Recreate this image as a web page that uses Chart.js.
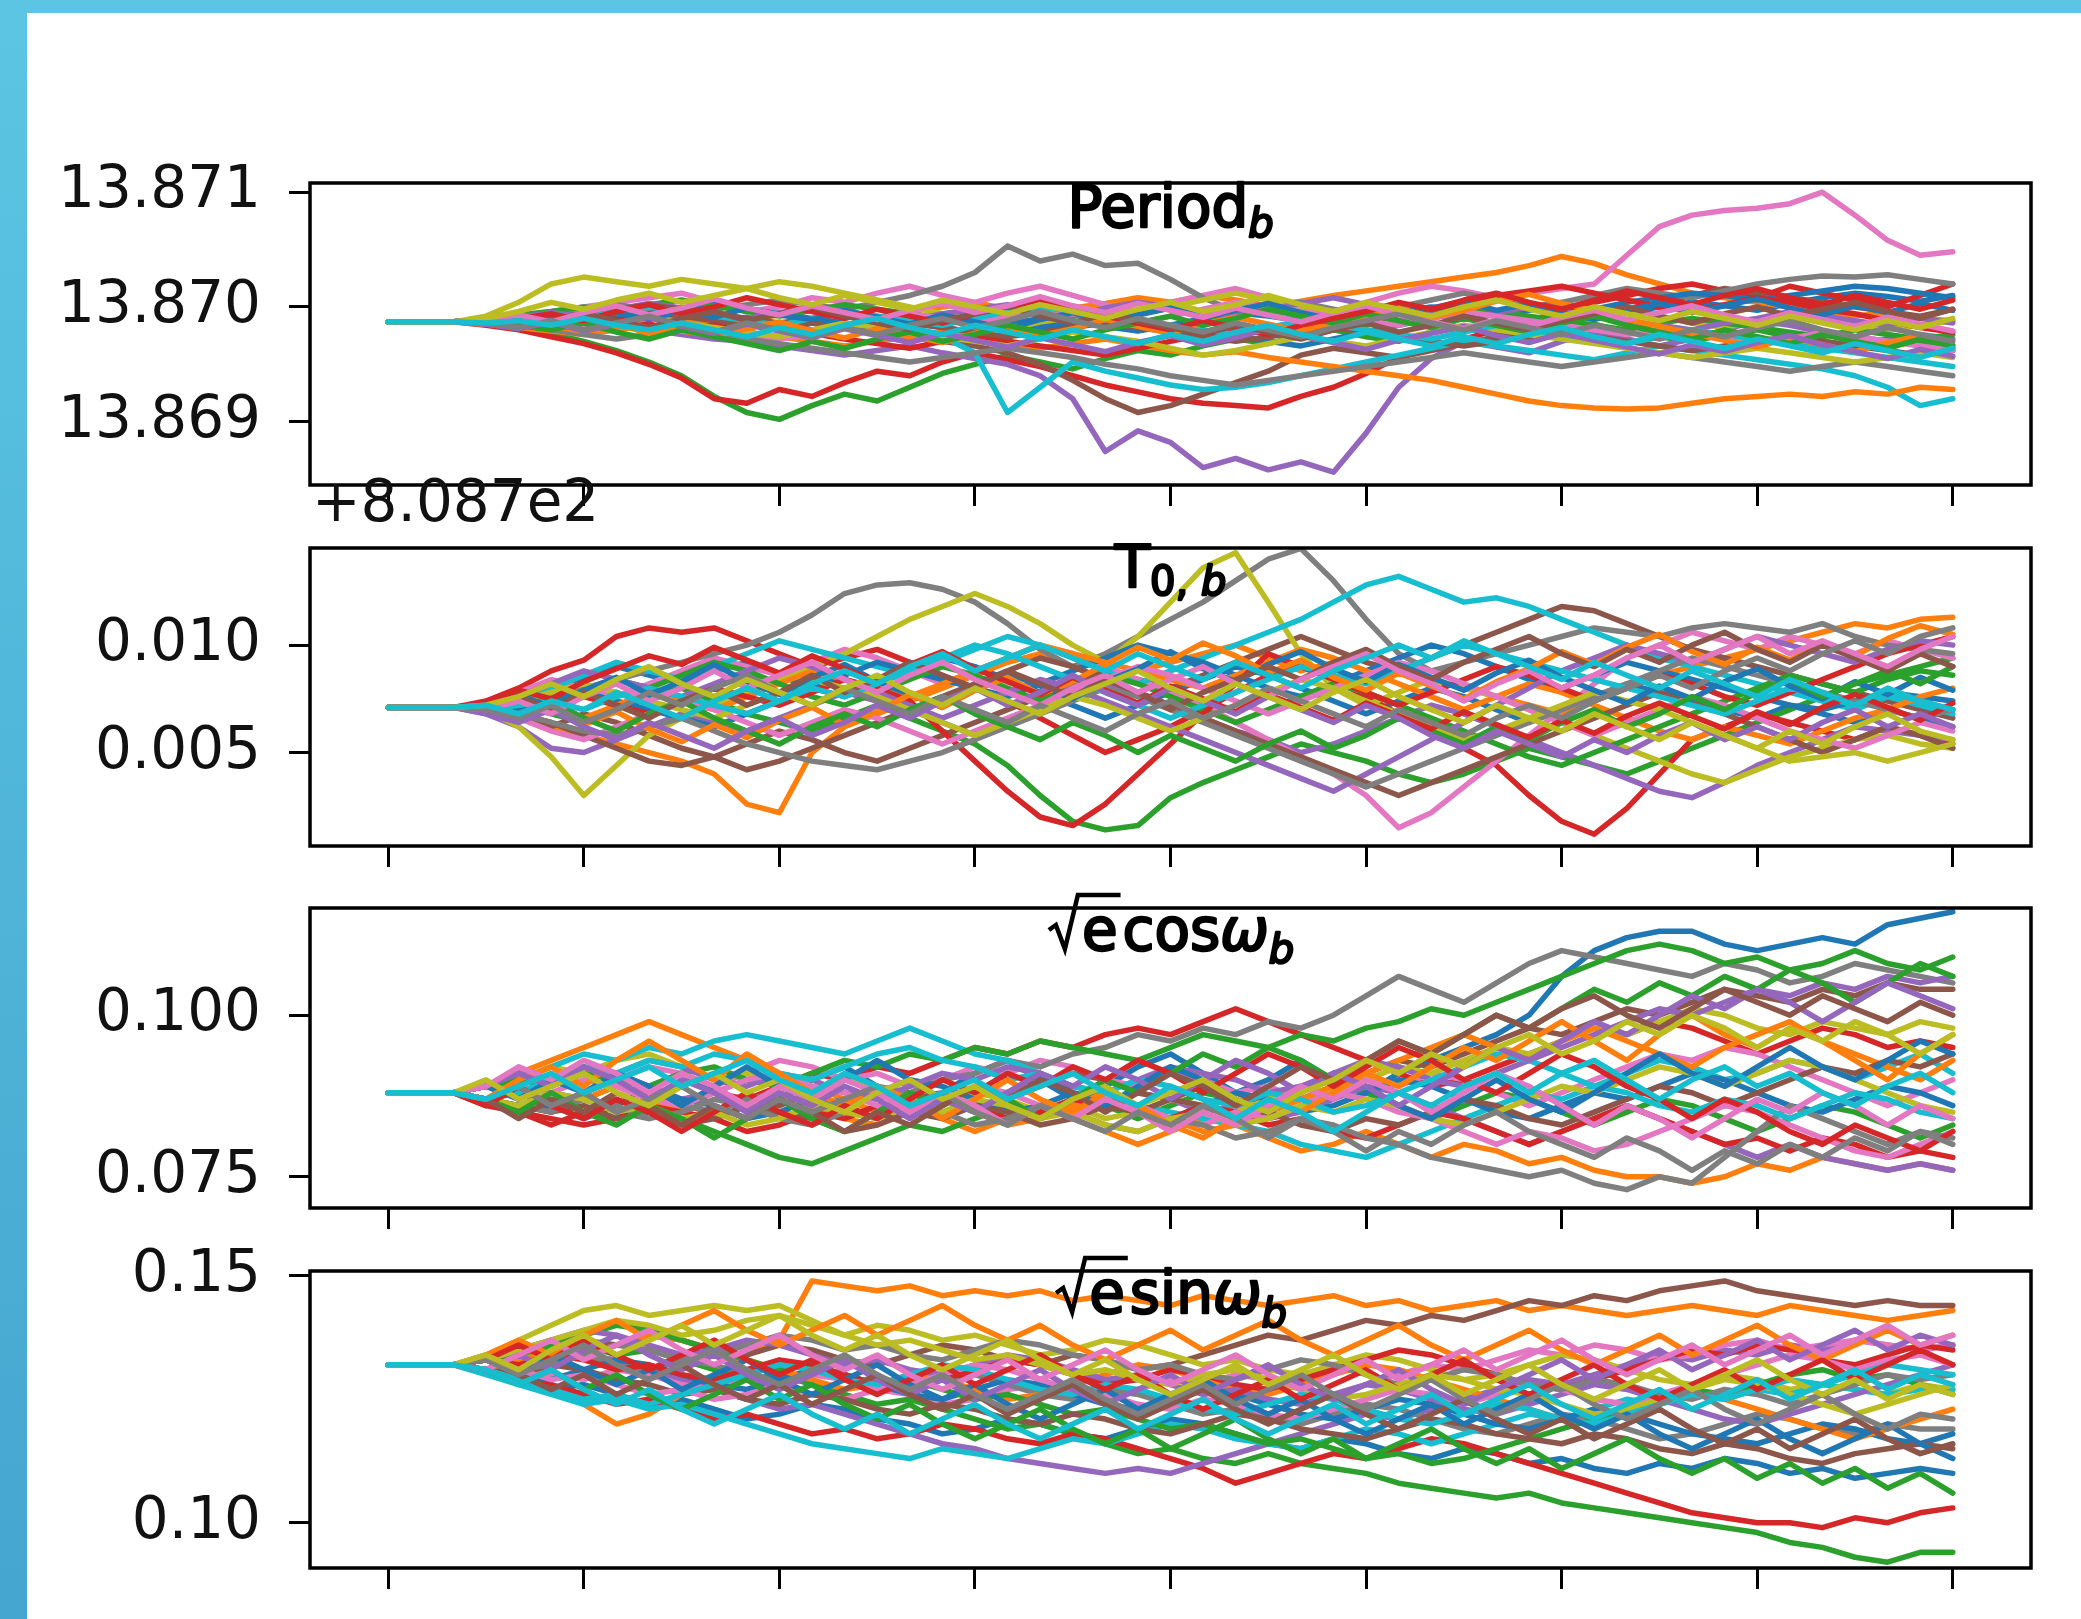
<!DOCTYPE html>
<html>
<head>
<meta charset="utf-8">
<script src="https://cdn.jsdelivr.net/npm/chart.js@4.4.0/dist/chart.umd.min.js"></script>
<style>
  html, body { margin: 0; padding: 0; background: #fff; }
  body { width: 2081px; height: 1619px; position: relative; overflow: hidden; }
  #bandTop { position: absolute; left: 0; top: 0; width: 2081px; height: 13px; background: #5bc5e3; }
  #bandLeft { position: absolute; left: 0; top: 0; width: 27px; height: 1619px; background: linear-gradient(#5bc5e3, #45a6cf); }
  canvas { position: absolute; left: 0; }
</style>
</head>
<body>
<div id="bandTop"></div>
<div id="bandLeft"></div>
<canvas id="c0"></canvas>
<canvas id="c1"></canvas>
<canvas id="c2"></canvas>
<canvas id="c3"></canvas>
<script>
// step axis (49 recorded steps, ticks every 6)
const stepTicks = [0, 6, 12, 18, 24, 30, 36, 42, 48];

// Period_b : value = 13.869 + v * 1e-5
const periodBase = 13.869, periodUnit = 1e-5;
const periodTicks = [13.869, 13.870, 13.871];
const periodWalkers = [
  [87,87,87,88,92,95,90,93,97,92,88,91,85,80,84,90,86,82,78,85,90,88,83,79,84,90,95,92,88,85,90,96,100,98,94,97,102,99,95,100,104,101,97,103,108,112,109,105,110],
  [87,87,87,86,84,88,92,96,93,90,86,89,93,97,95,91,96,100,104,98,94,99,103,108,104,110,106,101,105,110,114,118,122,126,130,136,144,138,128,120,112,108,104,100,96,92,95,90,88],
  [87,87,87,86,82,77,70,62,52,40,22,8,2,14,24,18,30,42,50,58,52,46,55,62,58,66,72,68,75,80,74,70,78,82,76,72,80,85,78,74,70,76,80,74,70,66,72,68,64],
  [87,87,87,84,80,74,68,60,50,38,20,16,28,22,34,44,40,52,60,54,48,40,32,26,20,16,14,12,22,30,42,56,64,72,80,88,96,104,110,116,120,114,108,118,112,106,100,110,120],
  [87,87,87,86,83,86,90,85,80,76,72,70,66,62,58,62,66,60,55,50,40,20,-26,-8,-18,-40,-32,-42,-35,-44,-10,30,55,70,65,60,70,78,72,66,72,80,88,84,78,74,70,76,72],
  [87,87,87,86,89,93,97,101,96,92,88,84,80,86,82,78,74,70,66,60,50,36,20,8,14,24,34,44,58,64,60,56,62,68,74,80,86,92,98,104,110,116,112,108,104,100,96,92,98],
  [87,87,87,88,92,96,100,104,108,112,104,96,100,108,104,112,118,110,104,112,118,110,102,96,104,110,116,108,100,96,104,112,118,114,108,112,116,120,145,170,180,184,186,190,200,180,158,145,148],
  [87,87,87,88,90,94,98,102,98,94,98,102,106,102,98,104,110,118,130,153,140,146,136,138,124,108,96,100,104,98,94,100,106,112,106,100,104,110,116,112,108,114,120,124,127,126,128,124,120],
  [87,87,87,92,104,120,126,122,118,124,120,116,122,118,112,106,100,94,88,82,86,92,98,94,100,106,112,106,100,96,90,86,92,98,94,88,84,90,96,92,86,82,88,94,90,86,80,84,88],
  [87,87,87,86,90,94,98,94,90,86,82,78,74,78,82,86,80,74,60,8,30,52,44,38,32,28,30,34,40,46,52,58,64,70,66,62,58,54,60,66,62,58,54,50,46,40,30,14,20],
  [87,87,87,88,86,82,86,90,94,98,102,98,94,90,86,82,78,74,70,76,82,86,90,86,82,78,74,70,66,72,78,84,90,96,92,88,92,98,104,108,112,110,106,110,114,118,116,112,108],
  [87,87,87,85,82,79,76,80,84,79,75,78,74,70,66,70,74,78,73,68,64,68,72,67,62,58,61,56,52,48,44,40,36,30,24,18,14,12,11,12,16,20,22,24,22,26,24,30,28],
  [87,87,87,89,93,96,100,97,102,106,101,96,92,97,102,98,94,90,86,92,97,93,89,85,80,86,92,97,93,88,84,90,95,100,96,92,88,84,80,86,90,86,82,78,74,80,76,72,76],
  [87,87,87,88,84,90,94,89,85,80,84,78,73,77,72,68,64,70,75,70,66,62,58,64,70,76,82,78,74,80,86,92,98,104,110,114,118,112,106,100,96,102,108,104,98,94,88,82,78],
  [87,87,87,88,91,95,92,98,103,99,94,90,95,100,96,92,88,94,98,102,97,93,99,104,100,96,92,98,103,108,102,97,93,89,95,100,96,92,88,84,80,86,90,96,92,88,84,90,86],
  [87,87,87,88,86,90,94,98,102,98,94,90,86,90,94,90,86,82,78,74,78,82,86,82,78,74,70,74,78,82,78,74,70,66,70,74,78,74,70,66,62,66,70,74,70,66,62,58,62],
  [87,87,87,88,90,86,82,86,90,86,80,76,72,76,82,88,94,90,86,92,98,94,90,86,92,98,104,100,96,92,88,84,90,96,92,88,84,80,76,80,76,72,68,72,78,74,70,66,62],
  [87,87,87,86,84,80,76,72,76,80,76,72,68,64,60,56,52,56,60,64,60,56,50,46,40,36,32,36,40,44,48,52,56,60,56,52,48,52,56,60,56,52,48,44,48,52,48,44,40],
  [87,87,87,86,88,84,80,86,90,86,82,78,74,80,86,82,78,74,70,66,72,78,74,70,64,58,62,68,74,70,66,72,78,84,80,76,72,68,64,60,56,60,64,60,56,52,56,60,56],
  [87,87,87,88,90,94,90,96,100,96,92,88,84,90,96,92,88,84,90,96,100,96,92,88,84,80,76,82,88,84,80,76,72,78,84,80,76,72,68,74,80,76,72,68,64,60,56,52,48],
  [87,87,87,89,85,91,87,95,89,97,91,99,93,89,97,91,85,93,87,81,89,95,87,93,99,91,97,103,95,89,97,91,99,105,97,103,95,89,97,103,95,101,107,99,93,101,95,103,97],
  [87,87,87,85,89,83,79,85,77,83,75,81,87,79,73,81,75,69,77,83,75,81,89,83,77,85,91,85,79,87,93,99,91,97,105,111,103,97,89,83,77,71,65,73,67,61,69,75,67],
  [87,87,87,88,84,80,86,78,72,80,74,68,62,70,64,72,78,70,76,84,78,72,80,86,92,84,90,98,92,86,94,88,82,90,84,78,86,92,84,78,72,80,74,68,76,70,64,72,66],
  [87,87,87,86,90,94,88,96,102,94,100,108,102,96,90,98,92,86,94,100,106,98,92,86,80,88,82,76,84,90,96,104,98,106,112,104,98,106,114,108,102,110,116,108,102,110,104,98,106],
  [87,87,87,85,81,87,79,85,91,83,77,85,79,73,81,75,69,77,71,65,73,67,61,69,75,67,73,81,75,69,63,71,77,83,75,69,77,71,65,59,67,61,69,75,67,61,55,63,57],
  [87,87,87,88,92,86,94,88,82,90,96,88,94,100,92,86,80,88,94,100,92,86,94,88,82,76,84,78,72,80,86,78,84,92,86,80,88,94,100,92,86,94,100,92,98,104,96,90,98],
  [87,87,87,89,93,87,95,101,93,99,107,99,93,101,95,89,97,103,95,101,109,101,95,103,97,91,99,93,87,95,101,93,87,81,89,83,91,97,89,95,101,93,87,95,89,83,91,85,79],
  [87,87,87,86,82,88,80,86,92,84,78,86,80,74,82,76,84,90,82,88,96,88,82,90,84,78,86,80,74,82,88,94,86,80,88,82,76,84,78,72,80,74,82,88,80,74,82,76,70],
  [87,87,87,90,96,104,98,106,112,104,110,116,108,102,110,104,98,106,100,94,102,96,90,98,104,96,102,110,102,96,104,98,92,100,106,98,92,100,94,88,96,90,84,92,86,80,88,82,90],
  [87,87,87,86,88,84,90,84,80,86,80,74,82,76,84,90,82,76,84,78,72,80,74,68,76,70,78,84,76,70,78,72,66,74,68,76,82,74,68,76,70,64,72,66,60,68,62,56,64]
];

// T0,b : value = 808.7 + v * 1e-4 (axis shows value - 808.7)
const t0Base = 0, t0Unit = 1e-4;
const t0Ticks = [0.005, 0.010];
const t0OffsetLabel = '+8.087e2';
const t0Walkers = [
  [71,71,71,72,76,80,85,90,86,82,88,92,86,80,76,82,88,94,90,84,78,72,66,72,78,84,90,86,80,74,68,74,80,76,70,64,70,76,82,78,74,70,66,72,68,64,70,66,62],
  [71,71,71,70,66,62,58,54,50,46,40,26,22,50,62,68,74,80,86,92,96,90,84,88,92,96,100,94,88,92,96,90,84,80,76,72,68,74,80,86,90,94,98,102,106,110,108,112,113],
  [71,71,71,70,72,68,64,70,76,80,74,68,64,60,66,72,66,60,54,44,30,18,14,16,29,36,42,48,54,50,46,40,36,40,46,52,48,44,40,46,52,58,64,70,76,82,86,90,94],
  [71,71,71,74,80,88,93,104,108,106,108,102,96,90,94,98,92,86,80,74,66,58,50,56,62,70,78,86,92,84,76,68,60,52,44,30,18,12,24,40,56,62,68,64,60,56,62,58,54],
  [71,71,71,68,62,52,50,56,62,68,64,60,66,72,78,74,70,64,58,64,70,76,82,78,72,66,60,56,50,54,60,66,72,68,62,56,50,44,38,32,29,36,44,50,56,62,60,58,56],
  [71,71,71,70,66,62,68,64,58,52,48,54,60,56,50,46,52,58,64,70,76,82,88,84,80,86,92,98,104,98,92,88,94,100,106,112,118,116,110,104,98,94,90,86,82,78,74,70,66],
  [71,71,71,72,78,84,80,76,82,88,94,90,86,92,98,94,88,82,88,94,100,96,90,84,78,72,64,56,48,40,30,15,22,34,46,58,70,82,94,100,106,102,98,104,100,96,102,98,94],
  [71,71,71,70,72,76,80,84,88,92,96,100,106,114,124,128,129,126,120,110,98,90,96,104,112,120,130,140,145,130,112,96,88,92,96,100,104,108,106,104,108,110,108,106,110,104,100,98,96],
  [71,71,71,70,62,48,30,44,58,66,72,78,84,90,96,104,112,118,124,118,110,100,92,104,120,136,143,120,96,80,72,78,84,80,76,70,64,58,52,46,40,36,42,48,52,56,58,54,52],
  [71,71,71,72,76,80,86,92,88,84,90,96,102,98,94,90,86,92,98,104,100,94,88,82,88,94,100,106,112,120,128,132,126,120,122,118,112,106,100,94,90,86,82,78,74,70,76,72,68],
  [71,71,71,72,70,74,78,74,70,66,62,68,74,80,86,92,88,84,80,76,82,88,94,100,96,92,86,80,76,82,88,94,100,96,90,84,80,86,92,88,84,80,76,72,70,74,78,76,74],
  [71,71,71,72,74,70,66,72,78,74,70,76,82,88,84,80,76,82,88,94,100,96,92,88,84,80,86,92,98,94,88,82,76,70,76,82,78,72,66,60,56,62,58,54,60,66,70,76,80],
  [71,71,71,72,76,72,78,84,80,86,92,88,82,76,72,78,84,90,86,80,74,80,86,82,76,70,64,70,76,82,78,72,66,60,54,48,44,50,56,62,68,74,80,86,82,78,84,88,86],
  [71,71,71,70,68,72,76,72,68,74,80,76,72,78,84,80,74,60,46,32,20,16,26,40,54,68,82,96,90,84,78,72,78,84,90,86,80,74,80,86,82,76,72,78,84,90,96,100,104],
  [71,71,71,72,76,82,88,84,80,76,82,88,94,90,84,78,72,66,72,78,84,80,74,68,62,56,50,44,38,32,40,48,56,64,72,80,88,94,100,96,92,98,104,100,96,92,98,102,100],
  [71,71,71,70,68,64,58,52,46,44,48,42,46,52,58,64,70,76,82,88,94,90,84,78,72,66,60,54,48,42,36,30,36,42,48,54,60,66,72,78,74,68,62,56,50,56,62,58,52],
  [71,71,71,70,66,60,56,62,68,74,70,64,58,64,70,66,60,54,60,66,72,78,84,90,86,80,74,68,74,80,86,92,88,82,76,70,64,58,64,70,76,72,66,60,56,52,58,64,60],
  [71,71,71,70,68,64,60,58,62,66,60,54,50,46,44,42,46,50,56,62,68,74,80,76,70,64,58,52,46,40,34,40,46,52,58,64,70,76,82,88,94,90,86,82,78,74,70,66,70],
  [71,71,71,72,74,78,82,78,74,70,66,72,78,84,80,76,70,64,58,64,70,76,72,66,60,66,72,78,84,80,74,68,62,56,60,66,72,78,74,70,64,58,52,46,48,50,46,50,54],
  [71,71,71,70,72,74,70,76,80,76,72,68,74,80,76,82,88,94,100,96,90,84,78,72,66,72,78,84,90,86,82,88,94,100,96,92,88,84,80,76,72,68,74,80,76,72,78,74,70],
  [71,71,71,73,77,71,79,85,77,83,91,83,77,85,91,83,77,71,79,87,81,75,83,89,97,89,83,91,97,89,83,91,85,79,87,93,85,79,73,81,75,83,89,81,75,83,77,85,79],
  [71,71,71,69,65,71,63,69,61,55,63,57,65,71,63,69,77,71,79,85,77,83,91,99,93,101,95,87,93,85,79,87,81,75,83,89,97,91,99,105,97,91,99,93,101,95,103,109,105],
  [71,71,71,72,68,74,66,60,68,74,66,60,54,62,68,62,70,76,68,62,56,64,58,50,58,52,46,54,60,52,58,66,60,54,62,56,64,70,62,68,76,70,78,84,76,82,88,82,90],
  [71,71,71,73,79,75,83,89,95,91,99,93,87,95,89,83,91,97,89,83,77,85,79,73,81,75,69,77,71,65,73,67,61,69,63,57,65,59,67,73,67,61,69,63,71,77,71,65,73],
  [71,71,71,68,64,70,62,56,64,58,52,60,66,58,64,72,66,74,80,72,78,86,78,72,80,74,68,76,70,64,72,66,58,52,60,54,48,56,50,58,64,56,62,56,64,70,62,68,62],
  [71,71,71,72,76,70,78,72,66,74,80,72,78,86,78,84,92,86,80,88,82,76,84,78,70,78,84,90,84,92,98,90,84,92,98,104,96,90,98,92,100,106,98,92,100,94,88,96,90],
  [71,71,71,70,74,68,76,82,74,80,88,80,86,92,84,78,86,92,84,78,72,80,86,78,84,90,82,76,84,90,96,88,82,74,82,88,80,86,94,100,92,98,104,96,102,96,90,98,104],
  [71,71,71,70,66,72,64,70,78,72,80,86,78,72,80,74,68,76,70,64,72,66,60,68,74,66,72,80,74,68,62,70,64,58,66,72,66,74,80,86,80,88,94,88,96,102,96,104,108],
  [71,71,71,72,76,82,76,84,90,82,76,84,78,72,80,86,78,72,80,74,68,76,82,88,80,74,82,76,70,78,84,76,70,64,72,66,60,68,62,56,64,58,52,60,54,62,68,60,56],
  [71,71,71,72,68,74,70,78,72,66,74,80,74,82,88,82,90,96,88,94,100,94,88,96,90,84,92,86,80,88,94,100,94,102,96,90,84,92,86,80,88,82,76,84,78,72,80,74,70]
];

// sqrt(e) cos(omega)_b : value = v * 1e-3
const ecoswBase = 0, ecoswUnit = 1e-3;
const ecoswTicks = [0.075, 0.100];
const ecoswWalkers = [
  [88,88,88,87,89,86,84,86,89,91,88,85,87,90,92,89,86,88,91,93,90,87,89,92,94,91,88,90,93,90,88,91,93,95,97,100,106,110,112,113,113,111,110,111,112,111,114,115,116],
  [88,88,88,89,91,93,95,97,99,97,95,93,91,89,87,85,86,84,82,84,86,84,82,80,82,84,83,81,79,80,82,80,78,80,79,77,78,76,75,75,74,75,77,76,78,77,76,77,76],
  [88,88,88,87,86,87,85,84,86,84,82,80,78,77,79,81,83,82,84,86,85,87,86,84,86,88,87,85,87,89,88,86,84,86,88,87,85,83,85,87,86,84,82,84,86,85,83,81,83],
  [88,88,88,86,85,83,85,87,85,86,88,87,89,91,90,92,91,93,95,94,96,95,97,98,97,99,101,99,97,95,93,91,89,90,92,94,96,98,97,99,98,96,94,96,98,97,95,96,95],
  [88,88,88,89,91,90,92,91,89,87,88,90,89,87,86,88,87,85,86,84,85,87,86,88,87,85,86,84,85,87,89,88,86,84,82,80,82,84,86,84,82,80,78,80,78,77,76,77,76],
  [88,88,88,87,88,86,87,89,88,86,85,87,86,88,90,89,87,88,86,87,89,91,90,88,87,89,88,86,87,89,91,93,92,94,96,98,97,99,101,100,102,104,103,102,104,103,105,104,104],
  [88,88,88,89,87,89,91,90,92,91,89,91,93,92,90,91,89,90,92,91,93,92,90,89,91,90,88,89,87,88,90,89,91,90,88,86,88,90,92,94,93,95,94,92,90,88,86,88,90],
  [88,88,88,87,86,88,87,85,84,86,85,87,88,86,87,89,88,90,91,93,92,94,95,97,96,98,97,99,98,100,103,106,104,102,105,108,110,109,108,107,106,108,107,105,106,108,107,106,105],
  [88,88,88,89,90,92,91,93,94,92,90,91,89,88,90,89,87,86,88,87,85,86,84,85,87,86,85,87,89,88,90,92,91,93,95,94,96,98,97,99,101,100,98,97,99,98,97,99,98],
  [88,88,88,89,90,92,94,93,95,94,96,97,96,95,94,96,98,96,94,93,91,89,88,86,85,84,83,82,80,79,78,80,82,84,86,88,87,89,91,93,92,90,91,93,92,90,92,94,91],
  [88,88,88,87,85,86,88,90,89,87,86,84,85,87,86,88,90,89,87,85,86,88,87,85,84,86,88,87,85,86,88,90,89,87,85,84,86,88,87,89,91,90,88,86,85,87,89,88,86],
  [88,88,88,87,86,85,87,89,87,85,84,86,88,86,84,83,85,87,85,83,84,86,88,86,84,82,83,85,87,89,91,93,95,97,95,93,96,98,96,94,92,95,97,99,96,94,92,90,93],
  [88,88,88,89,90,89,91,90,89,91,92,90,89,91,93,92,94,93,95,94,96,95,94,93,95,97,96,95,97,96,98,99,101,100,102,104,106,108,110,111,110,108,109,107,108,110,108,107,109],
  [88,88,88,87,85,84,83,84,86,85,84,82,83,85,84,86,85,87,86,84,85,87,86,85,84,86,85,83,84,82,81,83,85,84,82,80,82,84,86,84,82,80,81,79,81,80,78,79,78],
  [88,88,88,89,88,90,92,91,93,92,90,89,91,90,88,87,89,91,90,92,91,89,88,90,92,91,90,88,89,91,93,92,90,89,91,93,95,97,99,101,100,102,104,103,105,104,106,105,106],
  [88,88,88,87,86,85,86,84,85,83,84,86,85,84,82,83,85,84,86,85,83,84,86,85,87,86,84,85,83,82,84,83,85,87,86,84,83,85,87,89,88,86,88,90,92,91,93,92,94],
  [88,88,88,87,89,88,90,89,87,86,88,90,91,89,88,86,85,87,89,88,86,85,87,86,84,83,85,84,86,88,87,85,84,82,80,82,81,79,80,82,84,86,85,83,81,79,78,80,82],
  [88,88,88,87,86,85,87,86,84,85,87,86,84,83,85,84,86,85,83,84,86,85,83,82,84,83,81,82,84,83,81,80,78,77,76,75,76,74,73,75,74,78,82,86,84,82,80,82,81],
  [88,88,88,87,86,88,87,85,86,84,85,83,84,86,85,84,86,85,87,86,84,85,83,82,84,85,83,84,86,85,87,86,84,83,85,87,89,88,90,92,91,89,91,93,92,90,88,86,85],
  [88,88,88,89,88,90,92,91,93,92,94,93,91,90,92,94,95,93,92,90,91,89,88,90,89,87,86,88,87,85,86,88,90,92,94,93,91,89,88,86,85,87,86,84,86,88,87,85,84],
  [88,88,88,89,87,90,88,91,89,86,89,92,89,87,90,93,90,87,85,88,91,88,86,89,92,90,87,85,88,91,89,86,84,87,90,87,85,88,91,94,91,89,92,95,92,90,93,96,94],
  [88,88,88,87,90,92,89,93,96,93,90,94,91,88,86,89,87,84,87,90,87,85,88,86,83,81,84,87,85,88,91,89,92,95,93,96,99,96,93,97,100,97,95,98,96,93,90,94,97],
  [88,88,88,87,85,88,85,83,86,84,81,84,87,84,82,85,88,86,89,87,84,87,90,88,91,94,92,95,93,90,93,96,94,97,100,98,101,104,102,105,103,106,104,107,105,102,105,108,106],
  [88,88,88,86,89,86,84,87,85,82,85,88,85,83,86,84,87,90,88,91,89,92,90,93,91,88,91,94,92,89,92,95,93,90,88,91,94,92,89,87,84,87,85,82,80,83,81,79,82],
  [88,88,88,89,91,89,92,90,87,90,88,85,88,86,89,87,84,87,85,88,91,89,92,90,87,90,93,91,88,91,89,86,89,92,95,93,96,99,97,100,103,101,104,102,99,102,105,103,101],
  [88,88,88,87,84,87,85,88,86,83,86,84,87,85,82,85,83,86,89,87,90,88,85,88,91,89,86,89,92,90,93,96,94,97,100,98,101,103,100,98,101,104,102,100,103,101,99,102,100],
  [88,88,88,89,92,90,93,91,88,91,89,86,89,87,90,88,85,88,86,83,86,84,87,85,82,85,83,86,89,87,90,88,85,88,91,89,86,83,86,84,81,84,87,85,88,86,83,86,84],
  [88,88,88,87,89,86,88,85,87,89,86,84,87,85,87,89,86,88,85,83,86,84,82,85,83,86,84,81,84,82,79,82,80,83,85,82,80,78,81,79,76,79,77,80,78,81,79,82,80],
  [88,88,88,90,87,89,91,88,86,89,91,88,90,87,85,88,90,87,89,86,84,87,89,86,88,90,87,85,88,90,93,91,94,92,95,97,94,96,99,97,100,98,95,98,96,99,97,94,97],
  [88,88,88,87,89,91,88,90,92,89,91,93,90,88,91,89,86,88,90,87,89,91,88,86,89,87,84,87,85,82,85,88,86,89,91,88,91,93,90,87,90,92,89,91,88,86,89,91,88]
];

// sqrt(e) sin(omega)_b : value = v * 1e-3
const esinwBase = 0, esinwUnit = 1e-3;
const esinwTicks = [0.10, 0.15];
const esinwWalkers = [
  [132,132,132,131,129,127,128,126,124,125,123,121,122,124,123,121,120,118,119,121,120,118,117,119,121,120,118,116,115,117,116,114,113,115,114,112,113,111,110,112,111,113,112,110,111,109,110,111,110],
  [132,132,132,133,131,128,124,120,122,126,130,134,137,149,148,147,148,146,147,146,147,145,146,145,144,146,145,144,145,146,144,145,143,144,145,143,144,143,142,143,144,143,142,144,143,142,141,142,143],
  [132,132,132,133,135,137,136,134,135,133,131,129,130,128,126,124,125,123,121,119,120,118,116,114,115,113,112,114,112,111,110,108,107,106,105,106,104,103,102,101,100,99,98,96,95,93,92,94,94],
  [132,132,132,131,130,128,126,124,125,123,121,122,120,118,119,117,118,120,119,117,116,118,117,115,113,111,108,110,112,114,113,115,117,116,114,112,110,108,106,104,102,101,100,100,99,101,100,102,103],
  [132,132,132,131,133,132,134,133,131,129,127,125,123,124,122,120,118,116,115,113,112,111,110,111,110,112,114,116,118,120,122,121,123,125,127,129,128,130,132,134,133,135,134,136,135,137,136,135,136],
  [132,132,132,133,134,135,137,136,138,137,135,134,136,135,133,132,134,136,135,133,132,134,133,131,132,134,136,138,137,139,141,140,142,141,143,145,144,146,145,147,148,149,147,146,145,144,145,144,144],
  [132,132,132,131,132,130,129,131,130,128,127,129,128,126,125,127,126,124,125,127,128,126,125,127,129,128,130,129,127,126,128,130,132,131,133,135,134,136,135,133,134,136,137,135,136,137,136,135,136],
  [132,132,132,131,133,135,134,132,131,133,132,130,129,131,130,128,127,129,130,128,126,125,127,126,124,122,123,121,120,122,124,123,121,119,118,120,122,121,119,117,118,120,122,121,119,118,120,119,119],
  [132,132,132,134,137,140,143,144,142,143,144,143,144,141,138,140,139,137,138,136,134,135,137,136,134,132,133,131,130,132,134,133,131,129,130,132,134,133,131,129,128,130,129,127,128,127,126,128,127],
  [132,132,132,130,128,126,124,125,123,124,122,120,118,116,115,114,113,115,114,113,115,117,116,118,120,119,117,116,115,117,119,118,116,118,120,122,121,123,125,124,126,125,127,126,128,127,126,127,127],
  [132,132,132,131,130,129,131,133,132,130,128,127,129,131,130,128,126,125,127,129,128,126,124,123,125,127,126,124,122,121,123,125,124,122,120,119,121,123,122,120,118,117,116,118,120,119,117,116,118],
  [132,132,132,131,133,135,134,136,138,137,135,133,131,129,127,128,130,129,127,125,126,128,130,132,131,129,127,126,128,130,132,131,129,127,125,123,121,120,122,124,126,125,123,121,119,117,119,121,123],
  [132,132,132,133,134,136,138,140,139,137,135,133,131,132,130,128,129,127,125,126,124,122,123,121,119,120,118,116,117,115,113,114,112,113,115,117,119,121,123,125,127,126,128,130,131,129,130,128,126],
  [132,132,132,133,132,134,133,131,132,130,129,131,133,132,130,128,127,129,131,133,132,130,128,129,131,130,128,127,129,131,133,135,134,132,130,128,127,129,131,133,135,134,136,135,133,132,134,136,135],
  [132,132,132,133,135,137,139,138,136,134,135,137,136,134,132,133,131,130,132,134,133,131,129,130,128,126,127,125,124,126,128,127,125,123,122,124,126,128,127,125,123,121,120,122,124,126,128,130,132],
  [132,132,132,131,130,132,131,129,128,126,127,125,124,126,125,123,122,124,123,121,120,122,121,119,118,120,122,121,119,118,117,119,121,120,118,117,116,118,117,115,114,116,115,113,112,114,115,116,115],
  [132,132,132,133,131,129,130,128,126,127,125,126,128,130,129,127,128,130,132,131,129,127,126,124,123,125,124,122,121,123,125,127,126,124,126,128,127,125,124,126,128,130,132,134,133,131,133,134,132],
  [132,132,132,133,131,132,134,136,135,133,134,136,138,137,135,136,134,133,135,137,136,134,133,131,132,130,129,131,133,132,130,128,129,131,130,128,127,129,128,126,125,127,126,124,126,128,130,129,130],
  [132,132,132,133,135,137,139,141,140,138,139,141,142,140,138,136,137,135,133,134,132,130,131,129,128,130,131,129,127,125,126,128,130,129,127,126,124,122,123,125,127,129,128,126,124,122,124,126,128],
  [132,132,132,131,129,127,125,126,124,126,128,130,132,131,129,128,130,132,131,129,127,126,128,127,125,123,122,124,126,125,123,121,120,122,124,123,121,120,122,124,126,125,127,129,128,130,132,131,130],
  [132,132,132,133,130,134,131,128,131,127,130,133,129,126,129,132,128,125,128,124,121,124,127,123,126,129,125,122,125,121,118,121,124,120,123,126,122,119,122,118,115,118,121,117,114,117,120,116,113],
  [132,132,132,134,137,134,138,141,137,140,143,139,136,139,142,138,141,144,140,137,140,136,133,136,139,135,138,141,137,134,137,140,136,133,136,139,135,132,135,138,134,137,140,136,133,136,139,136,138],
  [132,132,132,131,128,131,127,130,126,123,126,129,125,128,124,121,124,120,117,120,123,119,116,119,115,118,121,117,114,117,113,116,119,115,112,115,111,114,117,113,110,113,109,112,108,111,107,110,106],
  [132,132,132,133,136,133,137,134,131,134,137,133,130,133,129,126,129,132,128,131,134,130,127,130,126,123,126,129,125,128,131,127,130,133,129,126,129,132,128,125,128,131,127,130,133,129,132,135,132],
  [132,132,132,131,134,131,135,138,134,131,134,130,127,130,133,129,126,129,125,128,131,127,124,127,130,126,129,132,128,125,128,131,127,124,127,130,133,129,132,135,131,134,137,133,136,139,135,138,136],
  [132,132,132,133,130,127,130,126,129,132,128,125,128,124,127,130,126,123,126,122,125,128,124,121,124,127,123,120,123,126,122,119,122,125,121,118,121,117,120,123,119,116,119,115,118,121,117,114,116],
  [132,132,132,131,134,137,133,136,139,135,132,135,138,134,131,134,130,127,130,133,129,132,135,131,128,131,134,130,127,130,133,129,132,135,131,134,137,133,130,133,136,132,135,138,134,137,140,136,138],
  [132,132,132,133,130,133,136,132,129,132,135,131,128,131,134,130,127,130,126,123,126,129,125,122,125,128,124,127,130,126,123,126,129,125,122,125,128,124,121,124,127,123,120,123,126,122,119,122,121],
  [132,132,132,134,131,135,138,134,137,140,136,139,142,138,135,138,134,131,134,137,133,130,133,129,126,129,132,128,131,134,130,127,130,126,129,132,128,125,128,131,127,130,133,129,126,129,125,128,126],
  [132,132,132,131,128,131,127,124,127,123,120,123,126,122,119,122,118,121,124,120,117,120,123,119,122,125,121,118,121,124,120,123,126,122,125,128,124,121,124,127,123,126,129,125,128,131,127,130,128]
];

const walkerColors = ['#1f77b4', '#ff7f0e', '#2ca02c', '#d62728', '#9467bd', '#8c564b', '#e377c2', '#7f7f7f', '#bcbd22', '#17becf'];

const FONT = "'DejaVu Sans'";
const mainFont = "58px " + FONT;
const italFont = "italic 58px " + FONT;
const subFont = "italic 40px " + FONT;
const subUpFont = "40px " + FONT;

const panels = [
  { id: 'c0', top: 183, bottom: 485, walkers: periodWalkers, base: periodBase, unit: periodUnit,
    min: 13.868448, max: 13.87108, ticks: periodTicks, digits: 3, titleY: 44,
    title: [{ text: 'Period', font: mainFont }, { text: 'b', font: subFont, dy: 10 }] },
  { id: 'c1', top: 548, bottom: 846, walkers: t0Walkers, base: t0Base, unit: t0Unit,
    min: 0.00065, max: 0.01452, ticks: t0Ticks, digits: 3, titleY: 39, offset: t0OffsetLabel,
    title: [{ text: 'T', font: mainFont }, { text: '0,', font: subUpFont, dy: 8 }, { text: ' b', font: subFont, dy: 8 }] },
  { id: 'c2', top: 908, bottom: 1208, walkers: ecoswWalkers, base: ecoswBase, unit: ecoswUnit,
    min: 0.07016, max: 0.11659, ticks: ecoswTicks, digits: 3, titleY: 42,
    title: [{ text: 'e', font: mainFont, sqrt: true }, { text: 'cos', font: mainFont }, { text: 'ω', font: italFont }, { text: 'b', font: subFont, dy: 13 }] },
  { id: 'c3', top: 1271, bottom: 1568, walkers: esinwWalkers, base: esinwBase, unit: esinwUnit,
    min: 0.09082, max: 0.15101, ticks: esinwTicks, digits: 2, titleY: 42,
    title: [{ text: 'e', font: mainFont, sqrt: true }, { text: 'sin', font: mainFont }, { text: 'ω', font: italFont }, { text: 'b', font: subFont, dy: 14 }] }
];

// the y labels ask for ~63px of bottom room, so the x axis band must be taller than that
const PAD_TOP = 80, X_AXIS_H = 70, Y_AXIS_W = 310, PAD_RIGHT = 50;

function drawTitle(ctx, a, pieces, offsetY) {
  const bl = a.top + offsetY;
  ctx.save();
  ctx.fillStyle = '#000';
  ctx.strokeStyle = '#000';
  ctx.textAlign = 'left';
  ctx.textBaseline = 'alphabetic';
  const widths = pieces.map(pc => {
    ctx.font = pc.font;
    const w = ctx.measureText(pc.text).width;
    return pc.sqrt ? w + 40 : w;
  });
  const total = widths.reduce((s, w) => s + w, 0);
  let x = (a.left + a.right) / 2 - total / 2;
  pieces.forEach((pc, k) => {
    ctx.font = pc.font;
    const y = bl + (pc.dy || 0);
    let tx = x;
    if (pc.sqrt) {
      const w = ctx.measureText(pc.text).width;
      ctx.lineWidth = 4.5;
      ctx.lineJoin = 'miter';
      ctx.beginPath();
      ctx.moveTo(x + 2, y - 20);
      ctx.lineTo(x + 9, y - 25);
      ctx.lineTo(x + 18, y - 1);
      ctx.lineTo(x + 31, y - 55);
      ctx.lineTo(x + 38 + w, y - 55);
      ctx.stroke();
      tx = x + 35;
    }
    ctx.lineWidth = 2.4;
    ctx.lineJoin = 'round';
    ctx.fillText(pc.text, tx, y);
    ctx.strokeText(pc.text, tx, y);
    x += widths[k];
  });
  ctx.restore();
}

function makeDecor(p) {
  return {
    id: 'panelDecor',
    afterDatasetsDraw(chart) {
      const a = chart.chartArea, ctx = chart.ctx;
      ctx.save();
      ctx.strokeStyle = '#000';
      ctx.lineWidth = 3.5;
      ctx.strokeRect(a.left, a.top, a.right - a.left, a.bottom - a.top);
      ctx.restore();
    },
    afterDraw(chart) {
      const a = chart.chartArea, ctx = chart.ctx;
      drawTitle(ctx, a, p.title, p.titleY);
      if (p.offset) {
        ctx.save();
        ctx.font = mainFont;
        ctx.fillStyle = '#111';
        ctx.textAlign = 'left';
        ctx.textBaseline = 'alphabetic';
        ctx.fillText(p.offset, a.left + 2, a.top - 27);
        ctx.restore();
      }
    }
  };
}

const tickGrid = { display: true, drawOnChartArea: false, drawTicks: true, tickLength: 21, tickWidth: 3, tickColor: '#000', color: '#000' };

panels.forEach(p => {
  const canvas = document.getElementById(p.id);
  const h = PAD_TOP + (p.bottom - p.top) + X_AXIS_H;
  canvas.width = 2081;
  canvas.height = h;
  canvas.style.top = (p.top - PAD_TOP) + 'px';

  const datasets = p.walkers.map((w, k) => ({
    data: w.map((v, i) => ({ x: i, y: p.base + v * p.unit })),
    borderColor: walkerColors[k % 10],
    borderWidth: 5.5,
    borderJoinStyle: 'round',
    borderCapStyle: 'round',
    pointRadius: 0,
    fill: false,
    tension: 0,
    order: p.walkers.length - k
  }));

  new Chart(canvas, {
    type: 'line',
    data: { datasets },
    options: {
      responsive: false,
      animation: false,
      devicePixelRatio: 1,
      layout: { padding: { left: 0, right: PAD_RIGHT, top: PAD_TOP, bottom: 0 } },
      plugins: { legend: { display: false }, tooltip: { enabled: false } },
      scales: {
        x: {
          type: 'linear', min: -2.4, max: 50.4,
          afterBuildTicks: s => { s.ticks = stepTicks.map(v => ({ value: v })); },
          afterFit: s => { s.height = X_AXIS_H; },
          ticks: { display: false, autoSkip: false },
          grid: tickGrid,
          border: { display: false }
        },
        y: {
          type: 'linear', min: p.min, max: p.max,
          afterBuildTicks: s => { s.ticks = p.ticks.map(v => ({ value: v })); },
          afterFit: s => { s.width = Y_AXIS_W; },
          ticks: {
            autoSkip: false, padding: 28, color: '#111',
            font: { family: FONT, size: 58 },
            callback: v => Number(v).toFixed(p.digits)
          },
          grid: tickGrid,
          border: { display: false }
        }
      }
    },
    plugins: [makeDecor(p)]
  });
});
</script>
</body>
</html>
